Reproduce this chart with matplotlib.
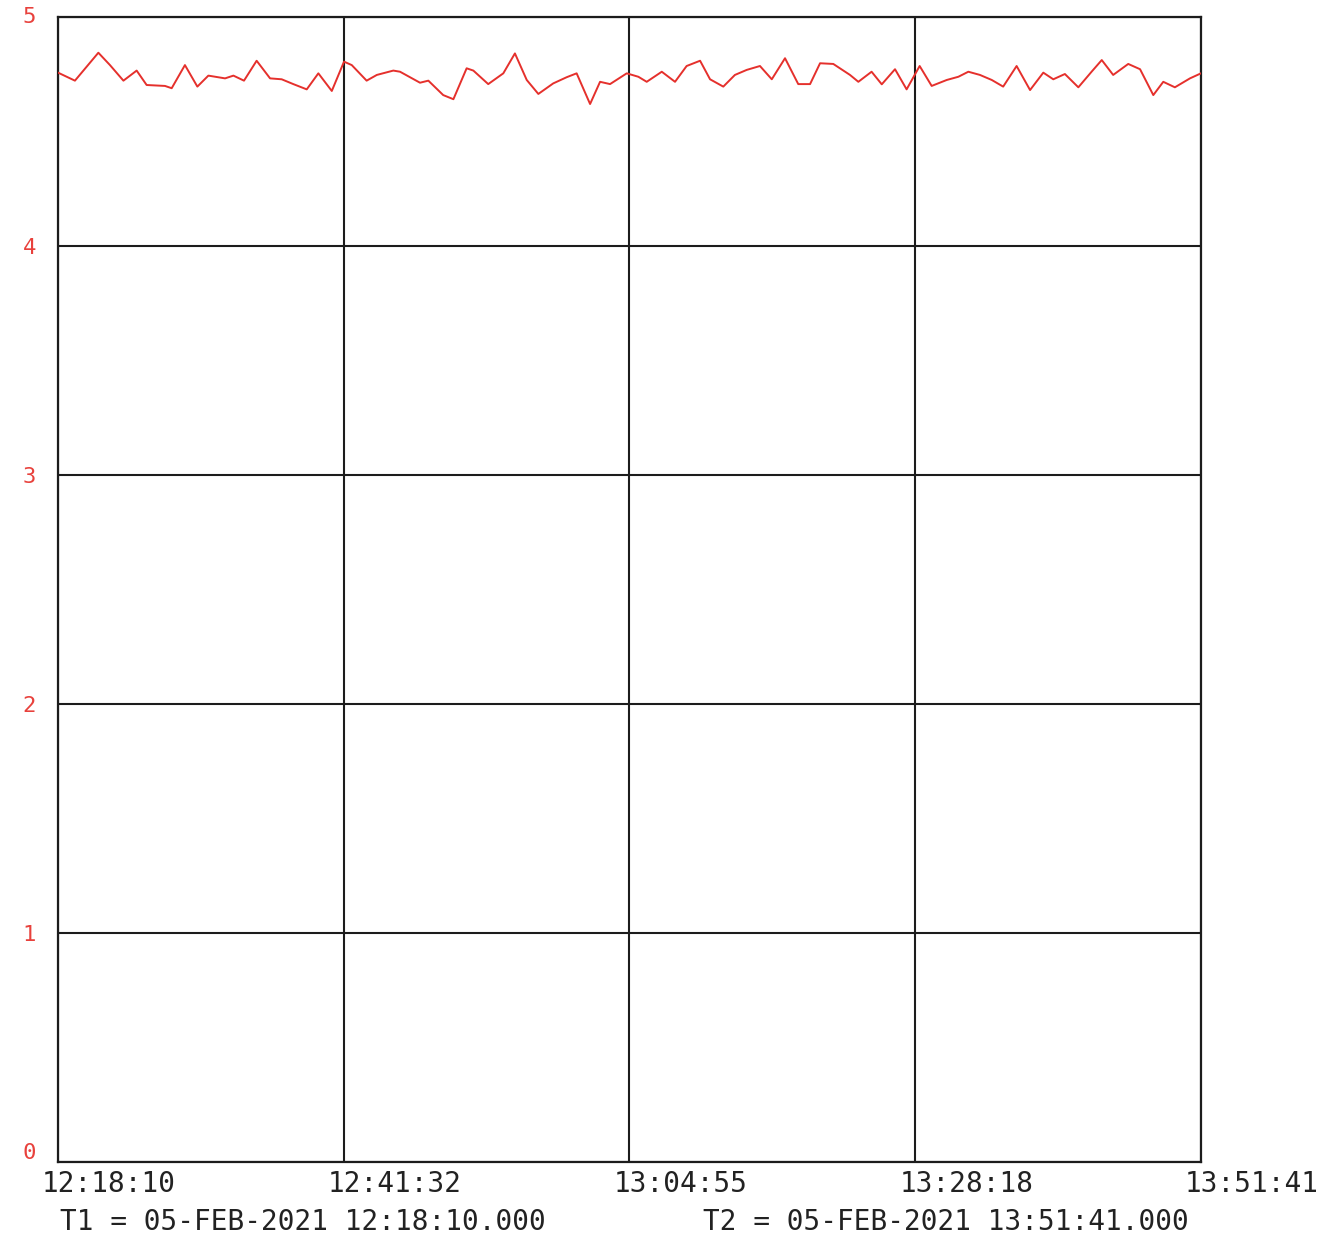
import matplotlib
matplotlib.use('Agg')
import matplotlib.pyplot as plt
from matplotlib.transforms import ScaledTranslation

# elapsed seconds since T1 and recorded value
elapsed_s = [0, 83, 198, 255, 321, 386, 435, 525, 558, 623, 684, 738, 820, 861,
             913, 975, 1041, 1098, 1155, 1221, 1278, 1344, 1404, 1442, 1515, 1565,
             1646, 1679, 1777, 1818, 1891, 1941, 2006, 2039, 2112, 2186, 2243, 2301,
             2358, 2431, 2497, 2546, 2612, 2661, 2710, 2792, 2849, 2890, 2964, 3029,
             3086, 3152, 3201, 3266, 3323, 3381, 3446, 3504, 3569, 3634, 3692, 3741,
             3806, 3888, 3929, 3994, 4044, 4109, 4166, 4230, 4289, 4363, 4420, 4469,
             4526, 4584, 4640, 4706, 4772, 4837, 4886, 4943, 5009, 5074, 5124, 5180,
             5254, 5312, 5377, 5426, 5483, 5557, 5611]
values = [4.757, 4.722, 4.844, 4.790, 4.722, 4.766, 4.703, 4.699, 4.689, 4.790,
          4.696, 4.744, 4.732, 4.744, 4.722, 4.809, 4.732, 4.728, 4.707, 4.684,
          4.754, 4.677, 4.805, 4.790, 4.722, 4.747, 4.766, 4.761, 4.713, 4.722,
          4.659, 4.641, 4.776, 4.766, 4.707, 4.754, 4.841, 4.725, 4.664, 4.710,
          4.737, 4.754, 4.620, 4.717, 4.707, 4.754, 4.739, 4.717, 4.761, 4.717,
          4.786, 4.809, 4.728, 4.696, 4.747, 4.769, 4.786, 4.728, 4.820, 4.707,
          4.707, 4.798, 4.795, 4.747, 4.717, 4.761, 4.706, 4.772, 4.684, 4.786,
          4.699, 4.725, 4.739, 4.761, 4.747, 4.725, 4.696, 4.786, 4.681, 4.757,
          4.728, 4.751, 4.693, 4.761, 4.812, 4.747, 4.795, 4.772, 4.659, 4.717,
          4.693, 4.732, 4.754]

total_s = 5611
x_tick_pos = [0, 1402.75, 2805.5, 4208.25, 5611]
x_tick_labels = ['12:18:10', '12:41:32', '13:04:55', '13:28:18', '13:51:41']
y_ticks = [0, 1, 2, 3, 4, 5]
t1_text = 'T1 = 05-FEB-2021 12:18:10.000'
t2_text = 'T2 = 05-FEB-2021 13:51:41.000'

mono = 'DejaVu Sans Mono'
grid_col = '#1c1c1c'

fig = plt.figure(figsize=(13.31, 12.41), dpi=100)
ax = fig.add_axes([0.0436, 0.0637, 0.8587, 0.9226])

ax.plot(elapsed_s, values, color='#e5302c', linewidth=1.4, zorder=3)

ax.set_xlim(0, total_s)
ax.set_ylim(0, 5)

ax.set_xticks(x_tick_pos)
ax.set_xticklabels(x_tick_labels, fontfamily=mono, fontsize=20, color='#222222')
ax.set_yticks(y_ticks)
ax.set_yticklabels([str(v) for v in y_ticks], fontfamily=mono, fontsize=16,
                   color='#e8413c')
ax.tick_params(axis='both', length=0)
ax.tick_params(axis='y', pad=16)
ax.tick_params(axis='x', pad=6)

shift = ScaledTranslation(-16 / 100, 0, fig.dpi_scale_trans)
for lbl in ax.get_xticklabels():
    lbl.set_horizontalalignment('left')
    lbl.set_transform(lbl.get_transform() + shift)

# the bottom "0" sits a little above its gridline, the top "5" a bit higher too
ylbls = ax.get_yticklabels()
ylbls[0].set_transform(ylbls[0].get_transform() + ScaledTranslation(0, 0.11, fig.dpi_scale_trans))
ylbls[-1].set_transform(ylbls[-1].get_transform() + ScaledTranslation(0, 0.02, fig.dpi_scale_trans))

ax.grid(True, color=grid_col, linewidth=1.5)
for sp in ax.spines.values():
    sp.set_color(grid_col)
    sp.set_linewidth(1.6)

fig.text(60 / 1331, 1 - 1222 / 1241, t1_text, fontfamily=mono, fontsize=20,
         ha='left', va='center', color='#222222')
fig.text(703 / 1331, 1 - 1222 / 1241, t2_text, fontfamily=mono, fontsize=20,
         ha='left', va='center', color='#222222')

fig.savefig('out.png', dpi=100, facecolor='white')
